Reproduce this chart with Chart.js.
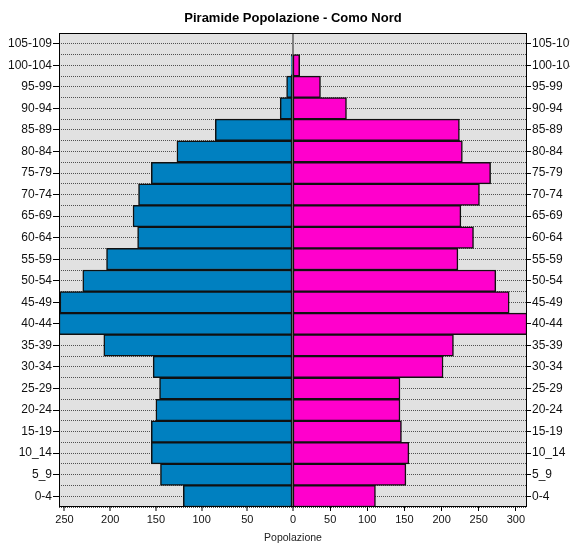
<!DOCTYPE html>
<html>
<head>
<meta charset="utf-8">
<script src="https://cdn.jsdelivr.net/npm/chart.js@4/dist/chart.umd.min.js"></script>
<style>
  html, body { margin: 0; padding: 0; background: #fff; }
  #wrap { width: 570px; height: 546px; }
</style>
</head>
<body>
<div id="wrap"><canvas id="pyramid"></canvas></div>
<script>
// fasce d'eta, dall'alto verso il basso
const ageGroups = ['105-109', '100-104', '95-99', '90-94', '85-89', '80-84', '75-79', '70-74',
    '65-69', '60-64', '55-59', '50-54', '45-49', '40-44', '35-39', '30-34', '25-29',
    '20-24', '15-19', '10_14', '5_9', '0-4'];
const maschi = [0, 2, 7, 14, 85, 127, 155, 169, 175, 170, 204, 230, 255, 256, 207, 153, 146, 150, 155, 155, 145, 120];
const femmine = [0, 9, 37, 72, 224, 228, 266, 251, 226, 243, 222, 273, 291, 315, 216, 202, 144, 144, 146, 156, 152, 111];
const maleTicks = [0, 50, 100, 150, 200, 250];
const femaleTicks = [50, 100, 150, 200, 250, 300];

const FONT = "'Liberation Sans', Arial, sans-serif";
const maxM = Math.max(...maschi);
const maxF = Math.max(...femmine);

const plotFrame = {
    id: 'plotFrame',
    beforeDraw(chart) {
        const { ctx, chartArea: a } = chart;
        ctx.save();
        ctx.fillStyle = '#e1e1e1';
        ctx.fillRect(a.left, a.top, a.width, a.height);
        ctx.restore();
    },
    afterDraw(chart) {
        const { ctx, chartArea: a } = chart;
        ctx.save();
        ctx.strokeStyle = '#000';
        ctx.lineWidth = 1;
        ctx.strokeRect(Math.round(a.left) + 0.5, Math.round(a.top) + 0.5,
            Math.round(a.width) - 1, Math.round(a.height) - 1);
        ctx.restore();
    }
};

document.addEventListener('DOMContentLoaded', () => {
    const ctx = document.getElementById('pyramid').getContext('2d');

    new Chart(ctx, {
        type: 'bar',
        data: {
            labels: ageGroups,
            datasets: [{
                label: 'Maschi',
                data: maschi,
                xAxisID: 'xM',
                yAxisID: 'y',
                backgroundColor: '#0080c0',
                borderColor: '#101010',
                borderWidth: 1.5,
                borderSkipped: false,
                grouped: false,
                barPercentage: 1,
                categoryPercentage: 1
            }, {
                label: 'Femmine',
                data: femmine,
                xAxisID: 'xF',
                yAxisID: 'y',
                backgroundColor: '#ff00cc',
                borderColor: '#101010',
                borderWidth: 1.5,
                borderSkipped: false,
                grouped: false,
                barPercentage: 1,
                categoryPercentage: 1
            }]
        },
        options: {
            indexAxis: 'y',
            responsive: true,
            maintainAspectRatio: false,
            animation: false,
            layout: { padding: 0 },
            plugins: {
                legend: { display: false },
                tooltip: { enabled: false },
                title: {
                    display: true,
                    text: 'Piramide Popolazione - Como Nord',
                    fullSize: false,
                    color: '#000',
                    font: { family: FONT, size: 13, weight: 'bold', lineHeight: 1.2 },
                    padding: { top: 11, bottom: 6.4 }
                }
            },
            scales: {
                y: {
                    type: 'category',
                    position: 'left',
                    offset: true,
                    afterFit: (s) => { s.width = 59; },
                    grid: {
                        offset: false,
                        color: '#505050',
                        lineWidth: 1,
                        tickColor: '#000',
                        tickLength: 6
                    },
                    border: { display: false, dash: [1, 1] },
                    ticks: { color: '#111', padding: 1, autoSkip: false, font: { family: FONT, size: 12 } }
                },
                y2: {
                    type: 'category',
                    position: 'right',
                    offset: true,
                    afterFit: (s) => { s.width = 43; },
                    grid: {
                        offset: false,
                        drawOnChartArea: false,
                        tickColor: '#000',
                        tickLength: 4
                    },
                    border: { display: false },
                    ticks: { color: '#111', padding: 1, autoSkip: false, font: { family: FONT, size: 12 } }
                },
                yB: {
                    type: 'category',
                    position: 'right',
                    offset: true,
                    weight: 5,
                    afterFit: (s) => { s.width = 0; },
                    grid: {
                        offset: true,
                        drawTicks: false,
                        color: '#505050',
                        lineWidth: 1
                    },
                    border: { display: false, dash: [1, 1] },
                    ticks: { display: false }
                },
                xF: {
                    type: 'linear',
                    position: 'bottom',
                    weight: 0,
                    min: -maxF,
                    max: maxF,
                    afterBuildTicks: (s) => { s.ticks = femaleTicks.map(v => ({ value: v })); },
                    afterFit: (s) => { s.height = 0; },
                    grid: {
                        drawOnChartArea: false,
                        tickColor: '#000',
                        tickLength: 4
                    },
                    border: { display: false },
                    // mirror avoids the label clip of a zero-height axis; negative padding puts the row back below
                    ticks: { color: '#111', mirror: true, padding: -19.2, maxRotation: 0, font: { family: FONT, size: 11 } }
                },
                xM: {
                    type: 'linear',
                    position: 'bottom',
                    weight: 1,
                    reverse: true,
                    min: -maxM,
                    max: maxM,
                    afterBuildTicks: (s) => { s.ticks = maleTicks.map(v => ({ value: v })); },
                    afterFit: (s) => { s.height = 39; },
                    grid: {
                        color: (c) => (c.tick && c.tick.value === 0 ? '#808080' : 'rgba(0,0,0,0)'),
                        lineWidth: (c) => (c.tick && c.tick.value === 0 ? 2 : 0),
                        tickColor: '#000',
                        tickWidth: 1,
                        tickLength: 4
                    },
                    border: { display: false },
                    ticks: { color: '#111', padding: 2, maxRotation: 0, font: { family: FONT, size: 11 } },
                    title: {
                        display: true,
                        text: 'Popolazione',
                        color: '#222',
                        font: { family: FONT, size: 10.5 },
                        padding: { top: 0, bottom: 2 }
                    }
                }
            }
        },
        plugins: [plotFrame]
    });
});
</script>
</body>
</html>
